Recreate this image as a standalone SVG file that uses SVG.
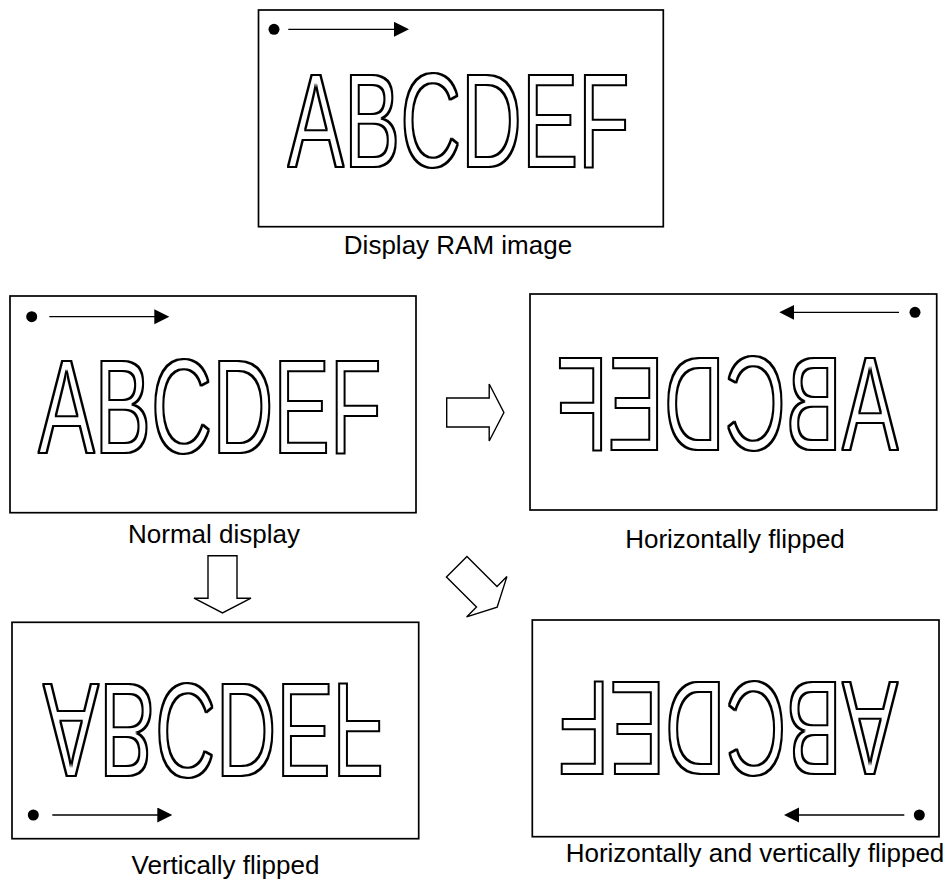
<svg xmlns="http://www.w3.org/2000/svg" width="952" height="879" viewBox="0 0 952 879">
<style>
.box{fill:#fff;stroke:#000;stroke-width:1.7}
.big{font-family:"Liberation Sans",Arial,sans-serif;font-size:135px;fill:#000;text-anchor:middle}
.lbl{font-family:"Liberation Sans",Arial,sans-serif;font-size:26px;fill:#000;text-anchor:middle}
.dir{fill:none;stroke:#000;stroke-width:1.3;marker-end:url(#ah)}
.dot{fill:#000}
.blk{fill:#fff;stroke:#000;stroke-width:1.4;stroke-linejoin:miter}
</style>
<defs>
<marker id="ah" markerUnits="userSpaceOnUse" markerWidth="16" markerHeight="16" refX="5" refY="7.5" orient="auto">
<path d="M0,0 L15,7.5 L0,15 z" fill="#000"/>
</marker>
<path id="barrow" d="M0,-14.5 H42.5 V-28.5 L57.2,0 L42.5,28.5 V14.5 H0 Z"/>
<filter id="ol" x="-5%" y="-10%" width="110%" height="120%" color-interpolation-filters="sRGB">
<feMorphology in="SourceAlpha" operator="dilate" radius="1" result="d"/>
<feMorphology in="SourceAlpha" operator="erode" radius="1" result="e"/>
<feComposite in="d" in2="e" operator="out"/>
</filter>
</defs>

<g id="ram">
<rect class="box" x="258.5" y="10" width="404.8" height="216.7"/>
<circle class="dot" cx="274" cy="29.3" r="5.5"/>
<path class="dir" d="M288.3,29.3 H399"/>
<g filter="url(#ol)"><text class="big" transform="translate(458.7,118.7) scale(0.624,0.99)" y="48.3">ABCDEF</text></g>
<text class="lbl" x="458" y="253.5">Display RAM image</text>
</g>

<g id="normal">
<rect class="box" x="10" y="296" width="406" height="216.7"/>
<circle class="dot" cx="31.7" cy="316.7" r="5.5"/>
<path class="dir" d="M49.3,316.7 H159.3"/>
<g filter="url(#ol)"><text class="big" transform="translate(209.8,405) scale(0.627,0.99)" y="48.3">ABCDEF</text></g>
<text class="lbl" x="214" y="542.5">Normal display</text>
</g>

<g id="hflip">
<rect class="box" x="530" y="294" width="406.7" height="216"/>
<circle class="dot" cx="915" cy="312.3" r="5.5"/>
<path class="dir" d="M899,312.3 H789.3"/>
<g filter="url(#ol)"><text class="big" transform="translate(727.3,402.5) scale(-0.624,0.99)" y="48.3">ABCDEF</text></g>
<text class="lbl" x="735" y="547.5">Horizontally flipped</text>
</g>

<g id="vflip">
<rect class="box" x="12" y="622.3" width="406.7" height="216.4"/>
<circle class="dot" cx="33.3" cy="815" r="5.5"/>
<path class="dir" d="M52.3,815 H162.3"/>
<g filter="url(#ol)"><text class="big" transform="translate(213.3,732.2) scale(0.622,-0.99)" y="48.3">ABCDEF</text></g>
<text class="lbl" x="225.5" y="873.5">Vertically flipped</text>
</g>

<g id="hvflip">
<rect class="box" x="532.3" y="620" width="406.7" height="216.7"/>
<circle class="dot" cx="919.3" cy="815" r="5.5"/>
<path class="dir" d="M904.3,815 H794"/>
<g filter="url(#ol)"><text class="big" transform="translate(728.2,729.5) scale(-0.62,-0.99)" y="48.3">ABCDEF</text></g>
<text class="lbl" x="755" y="861.5">Horizontally and vertically flipped</text>
</g>

<g id="connectors">
<use href="#barrow" class="blk" transform="translate(446.7,412.5)"/>
<use href="#barrow" class="blk" transform="translate(222.5,555.7) rotate(90)"/>
<use href="#barrow" class="blk" transform="translate(456.7,566.7) rotate(45)"/>
</g>
</svg>
